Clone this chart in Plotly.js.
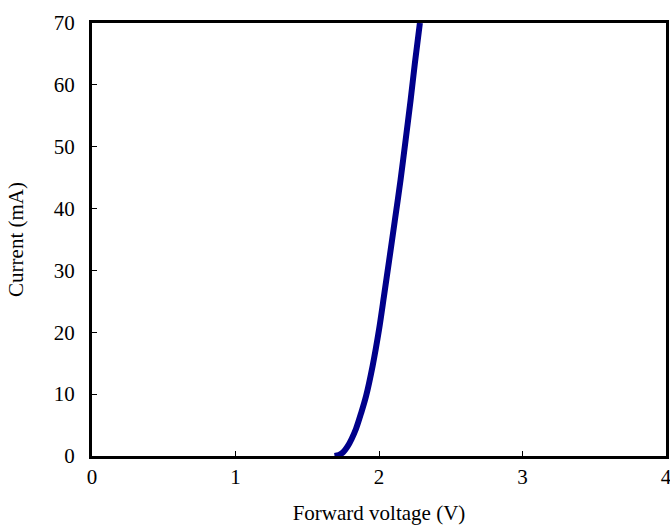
<!DOCTYPE html>
<html>
<head>
<meta charset="utf-8">
<script src="https://cdn.plot.ly/plotly-3.0.1.min.js"></script>
<style>html,body{margin:0;padding:0;background:#fff;}#chart{width:670px;height:525px;}</style>
</head>
<body>
<div id="chart"></div>
<script>
var voltage = [1.69, 1.72, 1.75, 1.78, 1.81, 1.84, 1.875, 1.91, 1.955, 2.0, 2.035, 2.07, 2.11, 2.15, 2.185, 2.22, 2.25, 2.285];
var current = [0, 0.15, 0.6, 1.5, 2.8, 4.4, 6.9, 9.7, 14.5, 20.4, 25.9, 31.5, 38.0, 44.6, 51.0, 57.5, 63.5, 70];
var xTicks = [0, 1, 2, 3, 4];
var yTicks = [0, 10, 20, 30, 40, 50, 60, 70];

var font = "'Liberation Serif', 'Times New Roman', serif";
Plotly.newPlot('chart', [{
  x: voltage, y: current, type: 'scatter', mode: 'lines',
  line: {color: '#00008B', width: 6, shape: 'spline', smoothing: 0.8},
  hoverinfo: 'none'
}], {
  width: 670, height: 525,
  margin: {l: 92, r: 4, t: 23, b: 69},
  paper_bgcolor: '#fff', plot_bgcolor: '#fff',
  showlegend: false,
  font: {family: font, size: 21, color: '#000'},
  xaxis: {
    range: [0, 4], tickvals: xTicks, ticktext: xTicks.map(String),
    ticks: 'inside', ticklen: 5, tickwidth: 1, tickcolor: '#000',
    showline: true, linewidth: 3, linecolor: '#000', mirror: true,
    showgrid: false, zeroline: false,
    ticklabeloverflow: 'allow',
    tickfont: {family: font, size: 21},
    title: {text: 'Forward voltage (V)', font: {family: font, size: 21}, standoff: 18}
  },
  yaxis: {
    range: [0, 70], tickvals: yTicks, ticktext: yTicks.map(String),
    ticks: 'inside', ticklen: 5, tickwidth: 1, tickcolor: '#000',
    showline: true, linewidth: 3, linecolor: '#000', mirror: true,
    showgrid: false, zeroline: false,
    ticklabeloverflow: 'allow',
    tickfont: {family: font, size: 21},
    ticklabelstandoff: 10,
    title: {text: 'Current (mA)', font: {family: font, size: 21}, standoff: 25}
  }
}, {staticPlot: true});
</script>
</body>
</html>
